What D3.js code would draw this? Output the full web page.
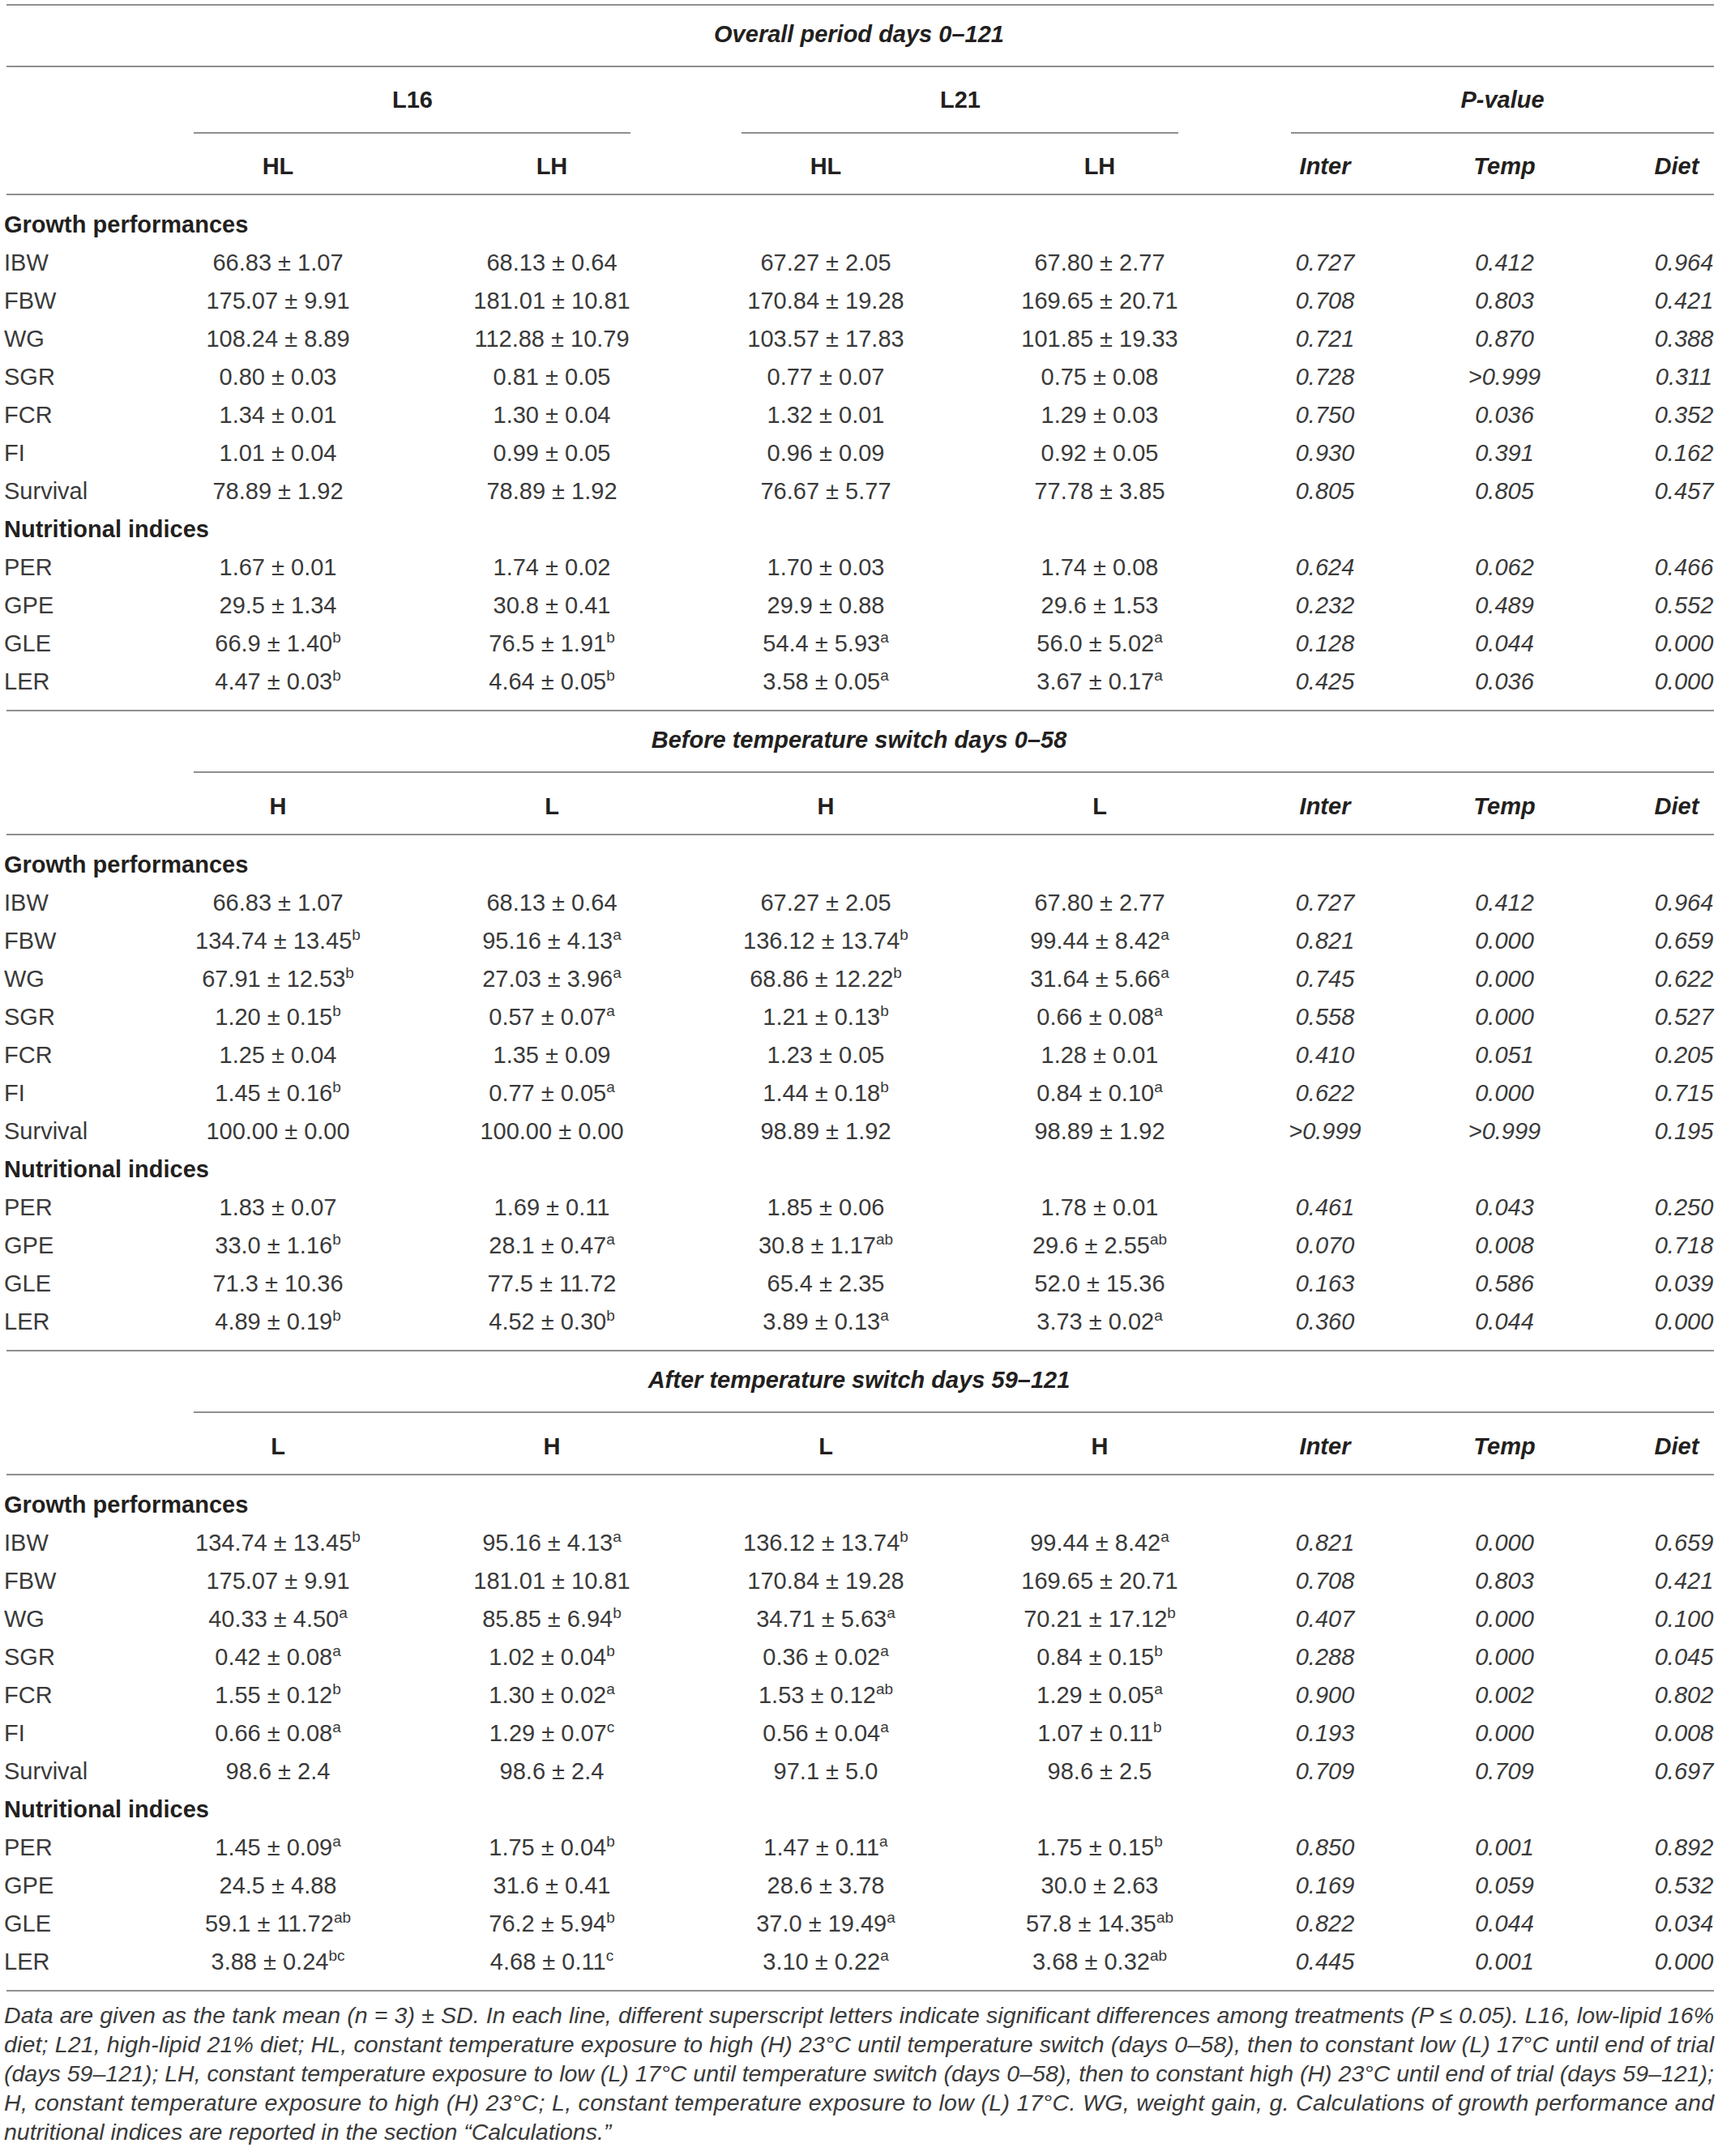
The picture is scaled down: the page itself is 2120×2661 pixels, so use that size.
<!DOCTYPE html>
<html lang="en">
<head>
<meta charset="UTF-8">
<title>Growth performance table</title>
<script src="https://cdn.jsdelivr.net/npm/d3@7"></script>
<style>
  body { margin: 0; background: #fff; }
  svg { display: block; font-family: "Liberation Sans", Arial, sans-serif; }
</style>
</head>
<body>
<svg width="2120" height="2661"></svg>
<script>
// ---- table data ----
var sectionTitles = ['Overall period days 0–121', 'Before temperature switch days 0–58', 'After temperature switch days 59–121'];
var dietLabels = ['L16', 'L21'];
var pLabel = 'P-value';
var treatmentHeaders = [['HL', 'LH', 'HL', 'LH'], ['H', 'L', 'H', 'L'], ['L', 'H', 'L', 'H']];
var pHeaders = ['Inter', 'Temp', 'Diet'];
var groupLabels = ['Growth performances', 'Nutritional indices'];
var growthRows = ['IBW', 'FBW', 'WG', 'SGR', 'FCR', 'FI', 'Survival'];
var nutritionRows = ['PER', 'GPE', 'GLE', 'LER'];

// overall period days 0-121
var overallL16HL = ['66.83 ± 1.07', '175.07 ± 9.91', '108.24 ± 8.89', '0.80 ± 0.03', '1.34 ± 0.01', '1.01 ± 0.04', '78.89 ± 1.92', '1.67 ± 0.01', '29.5 ± 1.34', '66.9 ± 1.40^b', '4.47 ± 0.03^b'];
var overallL16LH = ['68.13 ± 0.64', '181.01 ± 10.81', '112.88 ± 10.79', '0.81 ± 0.05', '1.30 ± 0.04', '0.99 ± 0.05', '78.89 ± 1.92', '1.74 ± 0.02', '30.8 ± 0.41', '76.5 ± 1.91^b', '4.64 ± 0.05^b'];
var overallL21HL = ['67.27 ± 2.05', '170.84 ± 19.28', '103.57 ± 17.83', '0.77 ± 0.07', '1.32 ± 0.01', '0.96 ± 0.09', '76.67 ± 5.77', '1.70 ± 0.03', '29.9 ± 0.88', '54.4 ± 5.93^a', '3.58 ± 0.05^a'];
var overallL21LH = ['67.80 ± 2.77', '169.65 ± 20.71', '101.85 ± 19.33', '0.75 ± 0.08', '1.29 ± 0.03', '0.92 ± 0.05', '77.78 ± 3.85', '1.74 ± 0.08', '29.6 ± 1.53', '56.0 ± 5.02^a', '3.67 ± 0.17^a'];
var overallInter = ['0.727', '0.708', '0.721', '0.728', '0.750', '0.930', '0.805', '0.624', '0.232', '0.128', '0.425'];
var overallTemp = ['0.412', '0.803', '0.870', '>0.999', '0.036', '0.391', '0.805', '0.062', '0.489', '0.044', '0.036'];
var overallDiet = ['0.964', '0.421', '0.388', '0.311', '0.352', '0.162', '0.457', '0.466', '0.552', '0.000', '0.000'];

// before temperature switch days 0-58
var beforeL16H = ['66.83 ± 1.07', '134.74 ± 13.45^b', '67.91 ± 12.53^b', '1.20 ± 0.15^b', '1.25 ± 0.04', '1.45 ± 0.16^b', '100.00 ± 0.00', '1.83 ± 0.07', '33.0 ± 1.16^b', '71.3 ± 10.36', '4.89 ± 0.19^b'];
var beforeL16L = ['68.13 ± 0.64', '95.16 ± 4.13^a', '27.03 ± 3.96^a', '0.57 ± 0.07^a', '1.35 ± 0.09', '0.77 ± 0.05^a', '100.00 ± 0.00', '1.69 ± 0.11', '28.1 ± 0.47^a', '77.5 ± 11.72', '4.52 ± 0.30^b'];
var beforeL21H = ['67.27 ± 2.05', '136.12 ± 13.74^b', '68.86 ± 12.22^b', '1.21 ± 0.13^b', '1.23 ± 0.05', '1.44 ± 0.18^b', '98.89 ± 1.92', '1.85 ± 0.06', '30.8 ± 1.17^ab', '65.4 ± 2.35', '3.89 ± 0.13^a'];
var beforeL21L = ['67.80 ± 2.77', '99.44 ± 8.42^a', '31.64 ± 5.66^a', '0.66 ± 0.08^a', '1.28 ± 0.01', '0.84 ± 0.10^a', '98.89 ± 1.92', '1.78 ± 0.01', '29.6 ± 2.55^ab', '52.0 ± 15.36', '3.73 ± 0.02^a'];
var beforeInter = ['0.727', '0.821', '0.745', '0.558', '0.410', '0.622', '>0.999', '0.461', '0.070', '0.163', '0.360'];
var beforeTemp = ['0.412', '0.000', '0.000', '0.000', '0.051', '0.000', '>0.999', '0.043', '0.008', '0.586', '0.044'];
var beforeDiet = ['0.964', '0.659', '0.622', '0.527', '0.205', '0.715', '0.195', '0.250', '0.718', '0.039', '0.000'];

// after temperature switch days 59-121
var afterL16L = ['134.74 ± 13.45^b', '175.07 ± 9.91', '40.33 ± 4.50^a', '0.42 ± 0.08^a', '1.55 ± 0.12^b', '0.66 ± 0.08^a', '98.6 ± 2.4', '1.45 ± 0.09^a', '24.5 ± 4.88', '59.1 ± 11.72^ab', '3.88 ± 0.24^bc'];
var afterL16H = ['95.16 ± 4.13^a', '181.01 ± 10.81', '85.85 ± 6.94^b', '1.02 ± 0.04^b', '1.30 ± 0.02^a', '1.29 ± 0.07^c', '98.6 ± 2.4', '1.75 ± 0.04^b', '31.6 ± 0.41', '76.2 ± 5.94^b', '4.68 ± 0.11^c'];
var afterL21L = ['136.12 ± 13.74^b', '170.84 ± 19.28', '34.71 ± 5.63^a', '0.36 ± 0.02^a', '1.53 ± 0.12^ab', '0.56 ± 0.04^a', '97.1 ± 5.0', '1.47 ± 0.11^a', '28.6 ± 3.78', '37.0 ± 19.49^a', '3.10 ± 0.22^a'];
var afterL21H = ['99.44 ± 8.42^a', '169.65 ± 20.71', '70.21 ± 17.12^b', '0.84 ± 0.15^b', '1.29 ± 0.05^a', '1.07 ± 0.11^b', '98.6 ± 2.5', '1.75 ± 0.15^b', '30.0 ± 2.63', '57.8 ± 14.35^ab', '3.68 ± 0.32^ab'];
var afterInter = ['0.821', '0.708', '0.407', '0.288', '0.900', '0.193', '0.709', '0.850', '0.169', '0.822', '0.445'];
var afterTemp = ['0.000', '0.803', '0.000', '0.000', '0.002', '0.000', '0.709', '0.001', '0.059', '0.044', '0.001'];
var afterDiet = ['0.659', '0.421', '0.100', '0.045', '0.802', '0.008', '0.697', '0.892', '0.532', '0.034', '0.000'];

var footnoteLines = [
    'Data are given as the tank mean (n = 3) ± SD. In each line, different superscript letters indicate significant differences among treatments (P ≤ 0.05). L16, low-lipid 16%',
    'diet; L21, high-lipid 21% diet; HL, constant temperature exposure to high (H) 23°C until temperature switch (days 0–58), then to constant low (L) 17°C until end of trial',
    '(days 59–121); LH, constant temperature exposure to low (L) 17°C until temperature switch (days 0–58), then to constant high (H) 23°C until end of trial (days 59–121);',
    'H, constant temperature exposure to high (H) 23°C; L, constant temperature exposure to low (L) 17°C. WG, weight gain, g. Calculations of growth performance and',
    'nutritional indices are reported in the section “Calculations.”'
];

// sections built from the arrays above
var sections = [
    { title: sectionTitles[0], heads: treatmentHeaders[0], groups: true,
      cols: [overallL16HL, overallL16LH, overallL21HL, overallL21LH], p: [overallInter, overallTemp, overallDiet] },
    { title: sectionTitles[1], heads: treatmentHeaders[1], groups: false,
      cols: [beforeL16H, beforeL16L, beforeL21H, beforeL21L], p: [beforeInter, beforeTemp, beforeDiet] },
    { title: sectionTitles[2], heads: treatmentHeaders[2], groups: false,
      cols: [afterL16L, afterL16H, afterL21L, afterL21H], p: [afterInter, afterTemp, afterDiet] }
];

// ---- layout ----
var svg = d3.select('svg');
var width = +svg.attr('width');
var left = 7, right = 2115;
var ink = '#231f20', light = '#3a3a3a', rule = '#8f8f8f';
var fs = 29;

var rowKeys = [groupLabels[0]].concat(growthRows, [groupLabels[1]], nutritionRows);

var x = d3.scalePoint().domain([0, 1, 2, 3]).range([343, 1357]);
var xp = d3.scalePoint().domain(pHeaders).range([1635, 2078]);

svg.append('rect').attr('width', width).attr('height', svg.attr('height')).attr('fill', '#fff');

function hline(x1, x2, y) {
    svg.append('line')
        .attr('x1', x1).attr('x2', x2).attr('y1', y).attr('y2', y)
        .attr('stroke', rule).attr('stroke-width', 2);
}

function label(txt, xx, y, opts) {
    opts = opts || {};
    var t = svg.append('text')
        .attr('x', xx)
        .attr('y', y + fs * 0.36)
        .attr('text-anchor', opts.anchor || 'middle')
        .attr('font-size', opts.size || fs)
        .attr('font-weight', opts.bold ? 'bold' : 'normal')
        .attr('font-style', opts.italic ? 'italic' : 'normal')
        .attr('fill', opts.bold ? ink : light);
    var parts = txt.split('^');
    t.append('tspan').text(parts[0]);
    if (parts[1]) {
        t.append('tspan').attr('font-size', 19).attr('dy', -11).text(parts[1]);
    }
    return t;
}

var cursorY = 6;
hline(8, right, cursorY);

sections.forEach(function (sec, si) {
    var titleY = cursorY + 36;
    label(sec.title, width / 2, titleY, { bold: true, italic: true });
    var lineY = cursorY + 76;
    hline(si === 0 ? 8 : x(0) - 104, right, lineY);

    var headY;
    if (sec.groups) {
        var groupY = lineY + 41;
        label(dietLabels[0], (x(0) + x(1)) / 2 - 3, groupY, { bold: true });
        label(dietLabels[1], (x(2) + x(3)) / 2 - 3, groupY, { bold: true });
        label(pLabel, ((xp('Inter') - 42) + right) / 2, groupY, { bold: true, italic: true });
        var ulY = lineY + 82;
        hline(x(0) - 104, x(1) + 97, ulY);
        hline(x(2) - 104, x(3) + 97, ulY);
        hline(xp('Inter') - 42, right, ulY);
        headY = ulY + 41;
    } else {
        headY = lineY + 42;
    }

    // column headers
    sec.heads.forEach(function (h, i) { label(h, x(i), headY, { bold: true }); });
    pHeaders.forEach(function (h) {
        label(h, xp(h) - (h === 'Diet' ? 9 : 0), headY, { bold: true, italic: true });
    });
    var headLineY = headY + 35;
    hline(8, right, headLineY);

    var y = d3.scalePoint().domain(rowKeys)
        .range([headLineY + 37, headLineY + 37 + 47.0 * (rowKeys.length - 1)]);

    rowKeys.forEach(function (k) {
        var isGroup = groupLabels.indexOf(k) >= 0;
        label(k, left - 2, y(k), { anchor: 'start', bold: isGroup });
    });

    var dataRows = growthRows.concat(nutritionRows);
    sec.cols.forEach(function (col, ci) {
        col.forEach(function (v, ri) { label(v, x(ci), y(dataRows[ri])); });
    });
    sec.p.forEach(function (col, ci) {
        col.forEach(function (v, ri) {
            label(v, xp(pHeaders[ci]), y(dataRows[ri]), { italic: true });
        });
    });

    cursorY = y(rowKeys[rowKeys.length - 1]) + 36;
    hline(8, right, cursorY);
});

// footnote, justified lines
footnoteLines.forEach(function (ln, i) {
    var t = svg.append('text')
        .attr('x', left - 2)
        .attr('y', cursorY + 40 + i * 36)
        .attr('font-size', 28.5)
        .attr('font-style', 'italic')
        .attr('fill', light)
        .text(ln);
    if (i < footnoteLines.length - 1) {
        t.attr('textLength', right - left + 2).attr('lengthAdjust', 'spacing');
    }
});
</script>
</body>
</html>
